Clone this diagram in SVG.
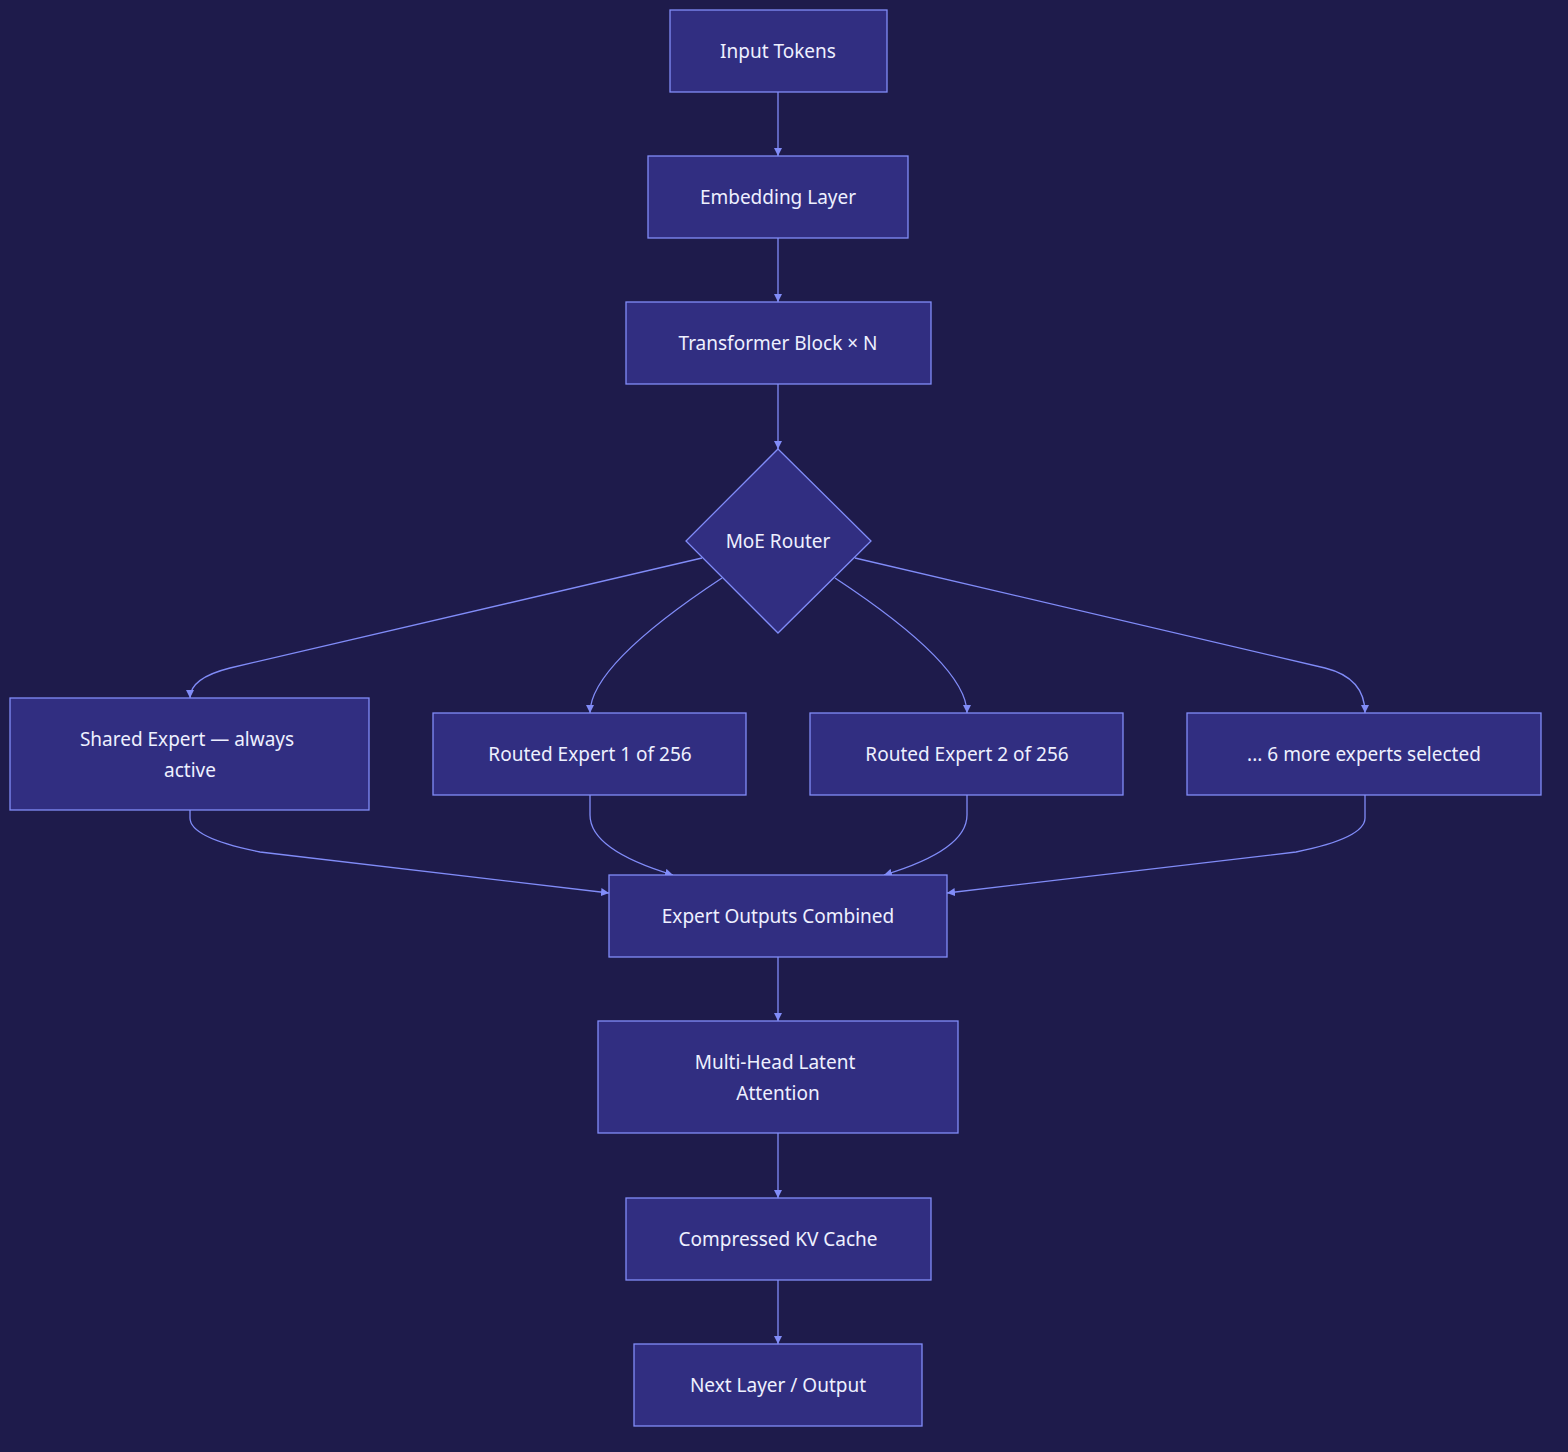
<svg xmlns="http://www.w3.org/2000/svg" width="1568" height="1452" viewBox="0 0 1568 1452">
<defs>
<style>
.n{fill:#312e81;stroke:#818cf8;stroke-width:1.3}
.t{font-family:"Noto Sans","DejaVu Sans",sans-serif;font-size:19px;fill:#eef0ff;text-anchor:middle;dominant-baseline:central}
.e{fill:none;stroke:#818cf8;stroke-width:1.3;marker-end:url(#a)}
</style>
<marker id="a" viewBox="0 0 10 10" refX="10" refY="5" markerWidth="8" markerHeight="8" orient="auto-start-reverse" markerUnits="userSpaceOnUse"><path d="M0,0L10,5L0,10z" fill="#818cf8"/></marker>
</defs>
<rect width="1568" height="1452" fill="#1e1b4b"/>
<g id="connectors">
<path class="e" d="M778,92V156"/>
<path class="e" d="M778,238V302"/>
<path class="e" d="M778,384V449"/>
<path class="e" d="M702,558L230,668Q190,678 190,698"/>
<path class="e" d="M722,578Q590,665 590,713"/>
<path class="e" d="M835,578Q967,665 967,713"/>
<path class="e" d="M855,558L1325,668Q1365,678 1365,713"/>
<path class="e" d="M190,810V818Q190,838 260,852L609,893"/>
<path class="e" d="M590,795V815Q590,850 673,875"/>
<path class="e" d="M967,795V815Q967,850 884,875"/>
<path class="e" d="M1365,795V818Q1365,838 1296,852L947,893"/>
<path class="e" d="M778,957V1021"/>
<path class="e" d="M778,1133V1198"/>
<path class="e" d="M778,1280V1344"/>
</g>
<g id="input"><rect class="n" x="670" y="10" width="217" height="82"/><text class="t" x="778" y="51">Input Tokens</text></g>
<g id="embed"><rect class="n" x="648" y="156" width="260" height="82"/><text class="t" x="778" y="197">Embedding Layer</text></g>
<g id="transformer"><rect class="n" x="626" y="302" width="305" height="82"/><text class="t" x="778" y="343">Transformer Block × N</text></g>
<g id="router"><path class="n" d="M778,449L871,541L778,633L686,541z"/><text class="t" x="778" y="541">MoE Router</text></g>
<g id="shared"><rect class="n" x="10" y="698" width="359" height="112"/><text class="t" x="187" y="739">Shared Expert — always</text><text class="t" x="190" y="770">active</text></g>
<g id="routed1"><rect class="n" x="433" y="713" width="313" height="82"/><text class="t" x="590" y="754">Routed Expert 1 of 256</text></g>
<g id="routed2"><rect class="n" x="810" y="713" width="313" height="82"/><text class="t" x="967" y="754">Routed Expert 2 of 256</text></g>
<g id="more"><rect class="n" x="1187" y="713" width="354" height="82"/><text class="t" x="1364" y="754">... 6 more experts selected</text></g>
<g id="combined"><rect class="n" x="609" y="875" width="338" height="82"/><text class="t" x="778" y="916">Expert Outputs Combined</text></g>
<g id="mhla"><rect class="n" x="598" y="1021" width="360" height="112"/><text class="t" x="775" y="1062">Multi-Head Latent</text><text class="t" x="778" y="1093">Attention</text></g>
<g id="kv"><rect class="n" x="626" y="1198" width="305" height="82"/><text class="t" x="778" y="1239">Compressed KV Cache</text></g>
<g id="next"><rect class="n" x="634" y="1344" width="288" height="82"/><text class="t" x="778" y="1385">Next Layer / Output</text></g>
</svg>
